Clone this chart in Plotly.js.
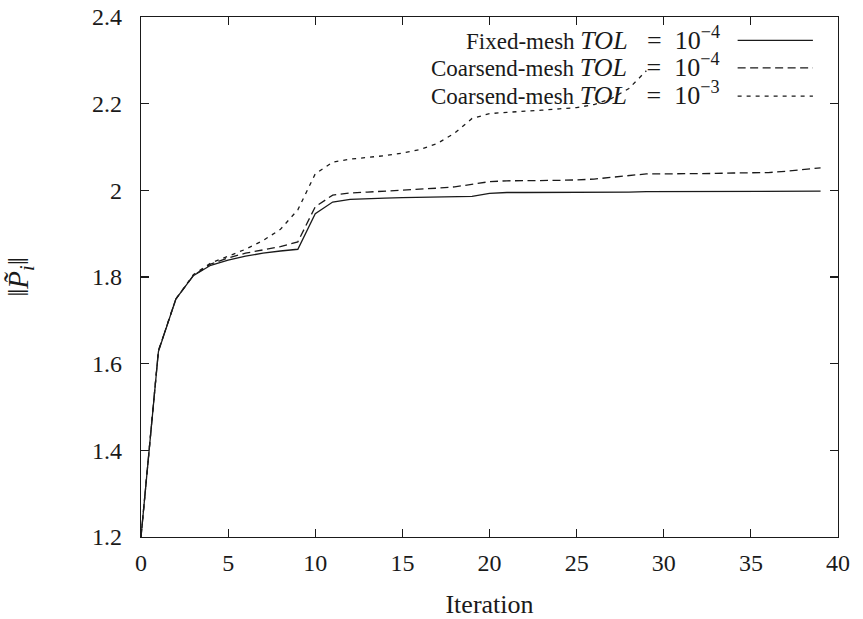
<!DOCTYPE html>
<html>
<head>
<meta charset="utf-8">
<script src="https://cdn.plot.ly/plotly-3.0.1.min.js"></script>
<style>html,body{margin:0;padding:0;background:#fff;}#chart{width:863px;height:619px;}</style>
</head>
<body>
<div id="chart"></div>
<script>
// Data
const iterFixed = [0,1,2,3,4,5,6,7,8,9,10,11,12,13,14,15,16,17,18,19,20,21,22,23,24,25,26,27,28,29,30,31,32,33,34,35,36,37,38,39];
const normFixed = [1.2,1.628,1.749,1.803,1.827,1.839,1.848,1.855,1.86,1.864,1.946,1.973,1.979,1.981,1.982,1.983,1.984,1.984,1.985,1.986,1.993,1.995,1.995,1.995,1.995,1.996,1.996,1.996,1.996,1.997,1.997,1.997,1.997,1.997,1.997,1.997,1.998,1.998,1.998,1.998];

const iterCoarse4 = [0,1,2,3,4,5,6,7,8,9,10,11,12,13,14,15,16,17,18,19,20,21,22,23,24,25,26,27,28,29,30,31,32,33,34,35,36,37,38,39];
const normCoarse4 = [1.2,1.63,1.749,1.803,1.83,1.844,1.855,1.862,1.87,1.881,1.962,1.989,1.994,1.996,1.998,2.0,2.002,2.005,2.008,2.014,2.02,2.022,2.022,2.023,2.023,2.024,2.026,2.03,2.034,2.038,2.038,2.038,2.039,2.039,2.04,2.04,2.041,2.044,2.048,2.052];

const iterCoarse3 = [0,1,2,3,4,5,6,7,8,9,10,11,12,13,14,15,16,17,18,19,20,21,22,23,24,25,26,27,28,29];
const normCoarse3 = [1.2,1.63,1.749,1.805,1.832,1.848,1.864,1.884,1.91,1.955,2.038,2.065,2.072,2.076,2.08,2.086,2.094,2.108,2.132,2.166,2.177,2.18,2.182,2.185,2.188,2.191,2.198,2.212,2.235,2.276];

const seriesLabels = ["Fixed-mesh", "Coarsend-mesh", "Coarsend-mesh"];
const seriesExponents = ["−4", "−4", "−3"];
const xTickVals = [0,5,10,15,20,25,30,35,40];
const yTickVals = [1.2,1.4,1.6,1.8,2.0,2.2,2.4];
const yTickText = ["1.2","1.4","1.6","1.8","2","2.2","2.4"];
const xTitle = "Iteration";
const yTitle = "‖<i>P̃</i><sub><i>i</i></sub>‖";

const FONT = "Liberation Serif, DejaVu Serif, serif";
const INK = "#1a1a1a";
const dashes = ["solid", "8px,4.5px", "4px,5px"];

const seriesNames = seriesLabels.map((s, k) =>
  s + " <span style=\"font-size:26px\"><i>TOL</i>\u00A0\u00A0\u00A0=\u00A0\u00A010<sup>" + seriesExponents[k] + "</sup></span>");

const xs = [iterFixed, iterCoarse4, iterCoarse3];
const ys = [normFixed, normCoarse4, normCoarse3];

const traces = xs.map((x, k) => ({
  x: x, y: ys[k], type: "scatter", mode: "lines", name: seriesNames[k],
  line: {color: INK, width: 1.3, dash: dashes[k]}, showlegend: false,
  hoverinfo: "skip"
}));

// Legend (gnuplot-style: text right-aligned, sample line on the right)
const legendY = [0.959, 0.906, 0.852];
const annotations = seriesNames.map((t, k) => ({
  xref: "paper", yref: "paper", x: 0.833, y: legendY[k],
  xanchor: "right", yanchor: "middle", showarrow: false, text: t,
  font: {family: FONT, size: 23, color: INK}
}));
const shapes = seriesNames.map((t, k) => ({
  type: "line", xref: "paper", yref: "paper",
  x0: 0.856, x1: 0.964, y0: legendY[k] - 0.004, y1: legendY[k] - 0.004,
  line: {color: INK, width: 1.3, dash: dashes[k]}
}));

const axisCommon = {
  showgrid: false, zeroline: false, showline: true, linecolor: INK, linewidth: 1.3,
  mirror: "ticks", ticks: "inside", ticklen: 8, tickwidth: 1.1, tickcolor: INK,
  tickfont: {family: FONT, size: 24, color: INK}
};

const layout = {
  width: 863, height: 619,
  margin: {l: 141, r: 25, t: 17, b: 82, pad: 0},
  paper_bgcolor: "#fff", plot_bgcolor: "#fff",
  font: {family: FONT, color: INK},
  showlegend: false,
  xaxis: Object.assign({}, axisCommon, {
    range: [0, 40], tickvals: xTickVals, ticklabelstandoff: 4,
    title: {text: xTitle, font: {family: FONT, size: 26, color: INK}, standoff: 19}
  }),
  yaxis: Object.assign({}, axisCommon, {
    range: [1.2, 2.4], tickvals: yTickVals, ticktext: yTickText, ticklabelstandoff: 13,
    title: {text: yTitle, font: {family: FONT, size: 29, color: INK}, standoff: 54}
  }),
  annotations: annotations,
  shapes: shapes
};

Plotly.newPlot("chart", traces, layout, {displayModeBar: false, staticPlot: true});
</script>
</body>
</html>
